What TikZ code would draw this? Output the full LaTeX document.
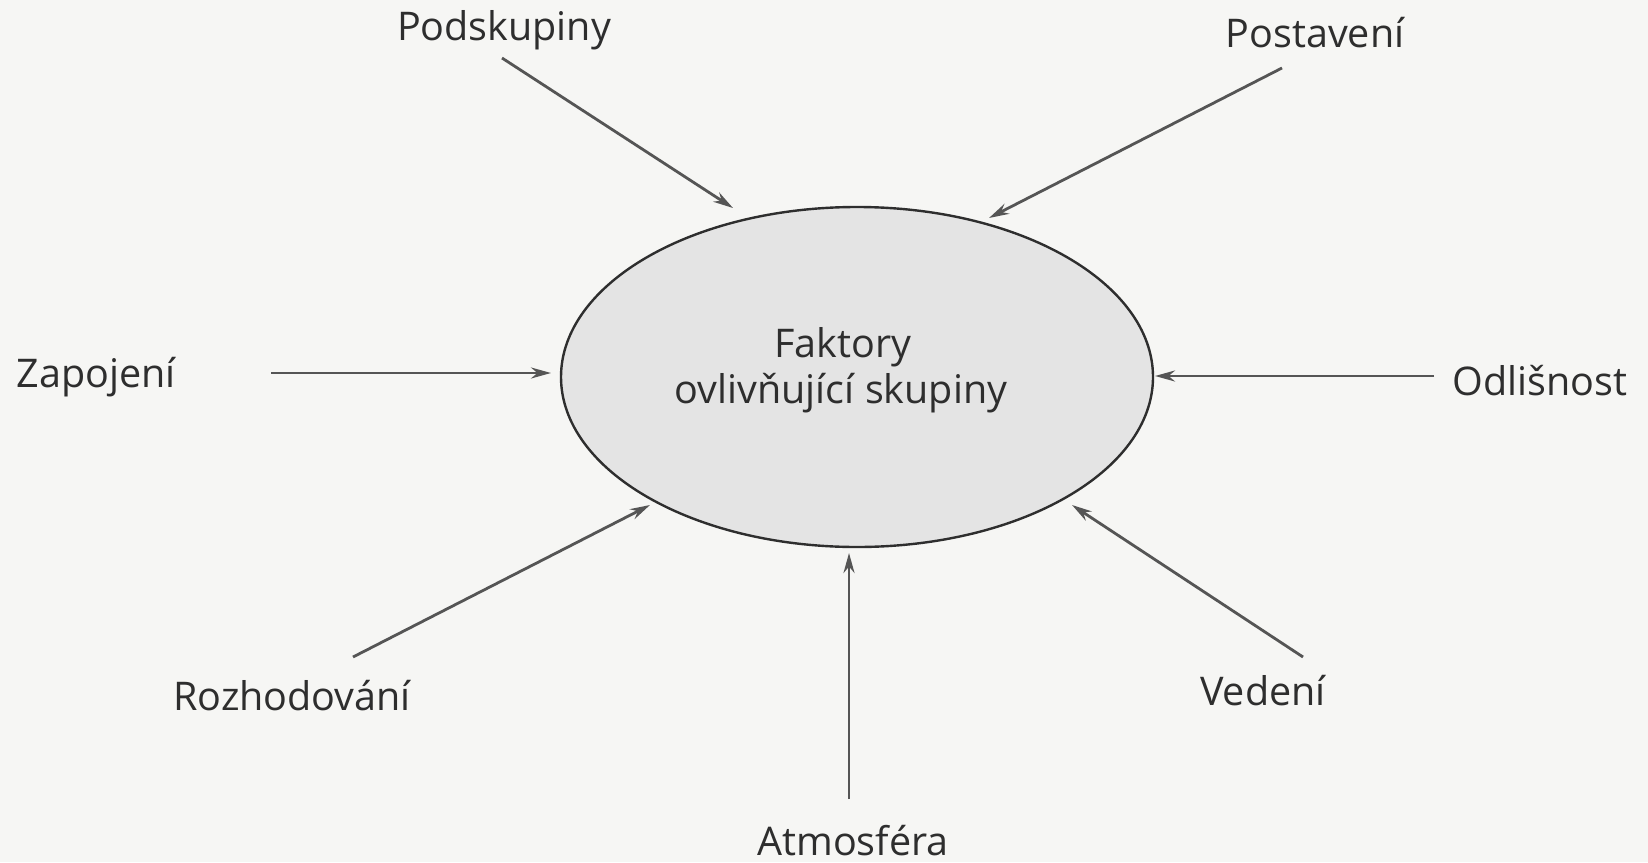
\documentclass[tikz,border=0pt]{standalone}
\usepackage{fontspec}
\setmainfont{Open Sans}
\usetikzlibrary{shapes.geometric,arrows.meta}
\definecolor{paper}{HTML}{F6F6F4}
\definecolor{blobfill}{HTML}{E4E4E4}
\definecolor{ink}{HTML}{2E2E2E}
\definecolor{arrowink}{HTML}{555555}
\tikzset{
  lbl/.style={font=\fontsize{39.5}{46}\selectfont, text=ink, inner sep=0pt, anchor=base},
  arr/.style={draw=arrowink, line width=2.8pt, -{Stealth[length=20pt,width=11pt]}},
  blob/.style={ellipse, draw=ink, line width=2.4pt, fill=blobfill, minimum width=592pt, minimum height=340pt, inner sep=0pt}
}
\begin{document}
\begin{tikzpicture}[x=1pt,y=-1pt]
\fill[paper] (0,0) rectangle (1648,862);
\useasboundingbox (0,0) rectangle (1648,862);
\node[blob] (E) at (857,377) {};
\node[lbl] (T1) at (843,357) {Faktory};
\node[lbl] (T2) at (841,403) {ovlivňující skupiny};
\node[lbl] (Pod) at (504,40) {Podskupiny};
\node[lbl] (Pos) at (1315,47) {Postavení};
\node[lbl] (Zap) at (96,387) {Zapojení};
\node[lbl] (Odl) at (1540,395) {Odlišnost};
\node[lbl] (Roz) at (292,710) {Rozhodování};
\node[lbl] (Ved) at (1263,705) {Vedení};
\node[lbl] (Atm) at (853,855) {Atmosféra};
\coordinate (sPod) at (502,58);  \coordinate (ePod) at (733,208);
\coordinate (sPos) at (1282,68); \coordinate (ePos) at (989,218);
\coordinate (sZap) at (271,373); \coordinate (eZap) at (551,373);
\coordinate (sOdl) at (1434,376); \coordinate (eOdl) at (1155,376);
\coordinate (sRoz) at (353,657); \coordinate (eRoz) at (650,505);
\coordinate (sVed) at (1303,657); \coordinate (eVed) at (1072,505);
\coordinate (sAtm) at (849,799); \coordinate (eAtm) at (849,553);
\draw[arr] (sPod) -- (ePod);
\draw[arr] (sPos) -- (ePos);
\draw[arr] (sZap) -- (eZap);
\draw[arr] (sOdl) -- (eOdl);
\draw[arr] (sRoz) -- (eRoz);
\draw[arr] (sVed) -- (eVed);
\draw[arr] (sAtm) -- (eAtm);
\end{tikzpicture}
\end{document}
